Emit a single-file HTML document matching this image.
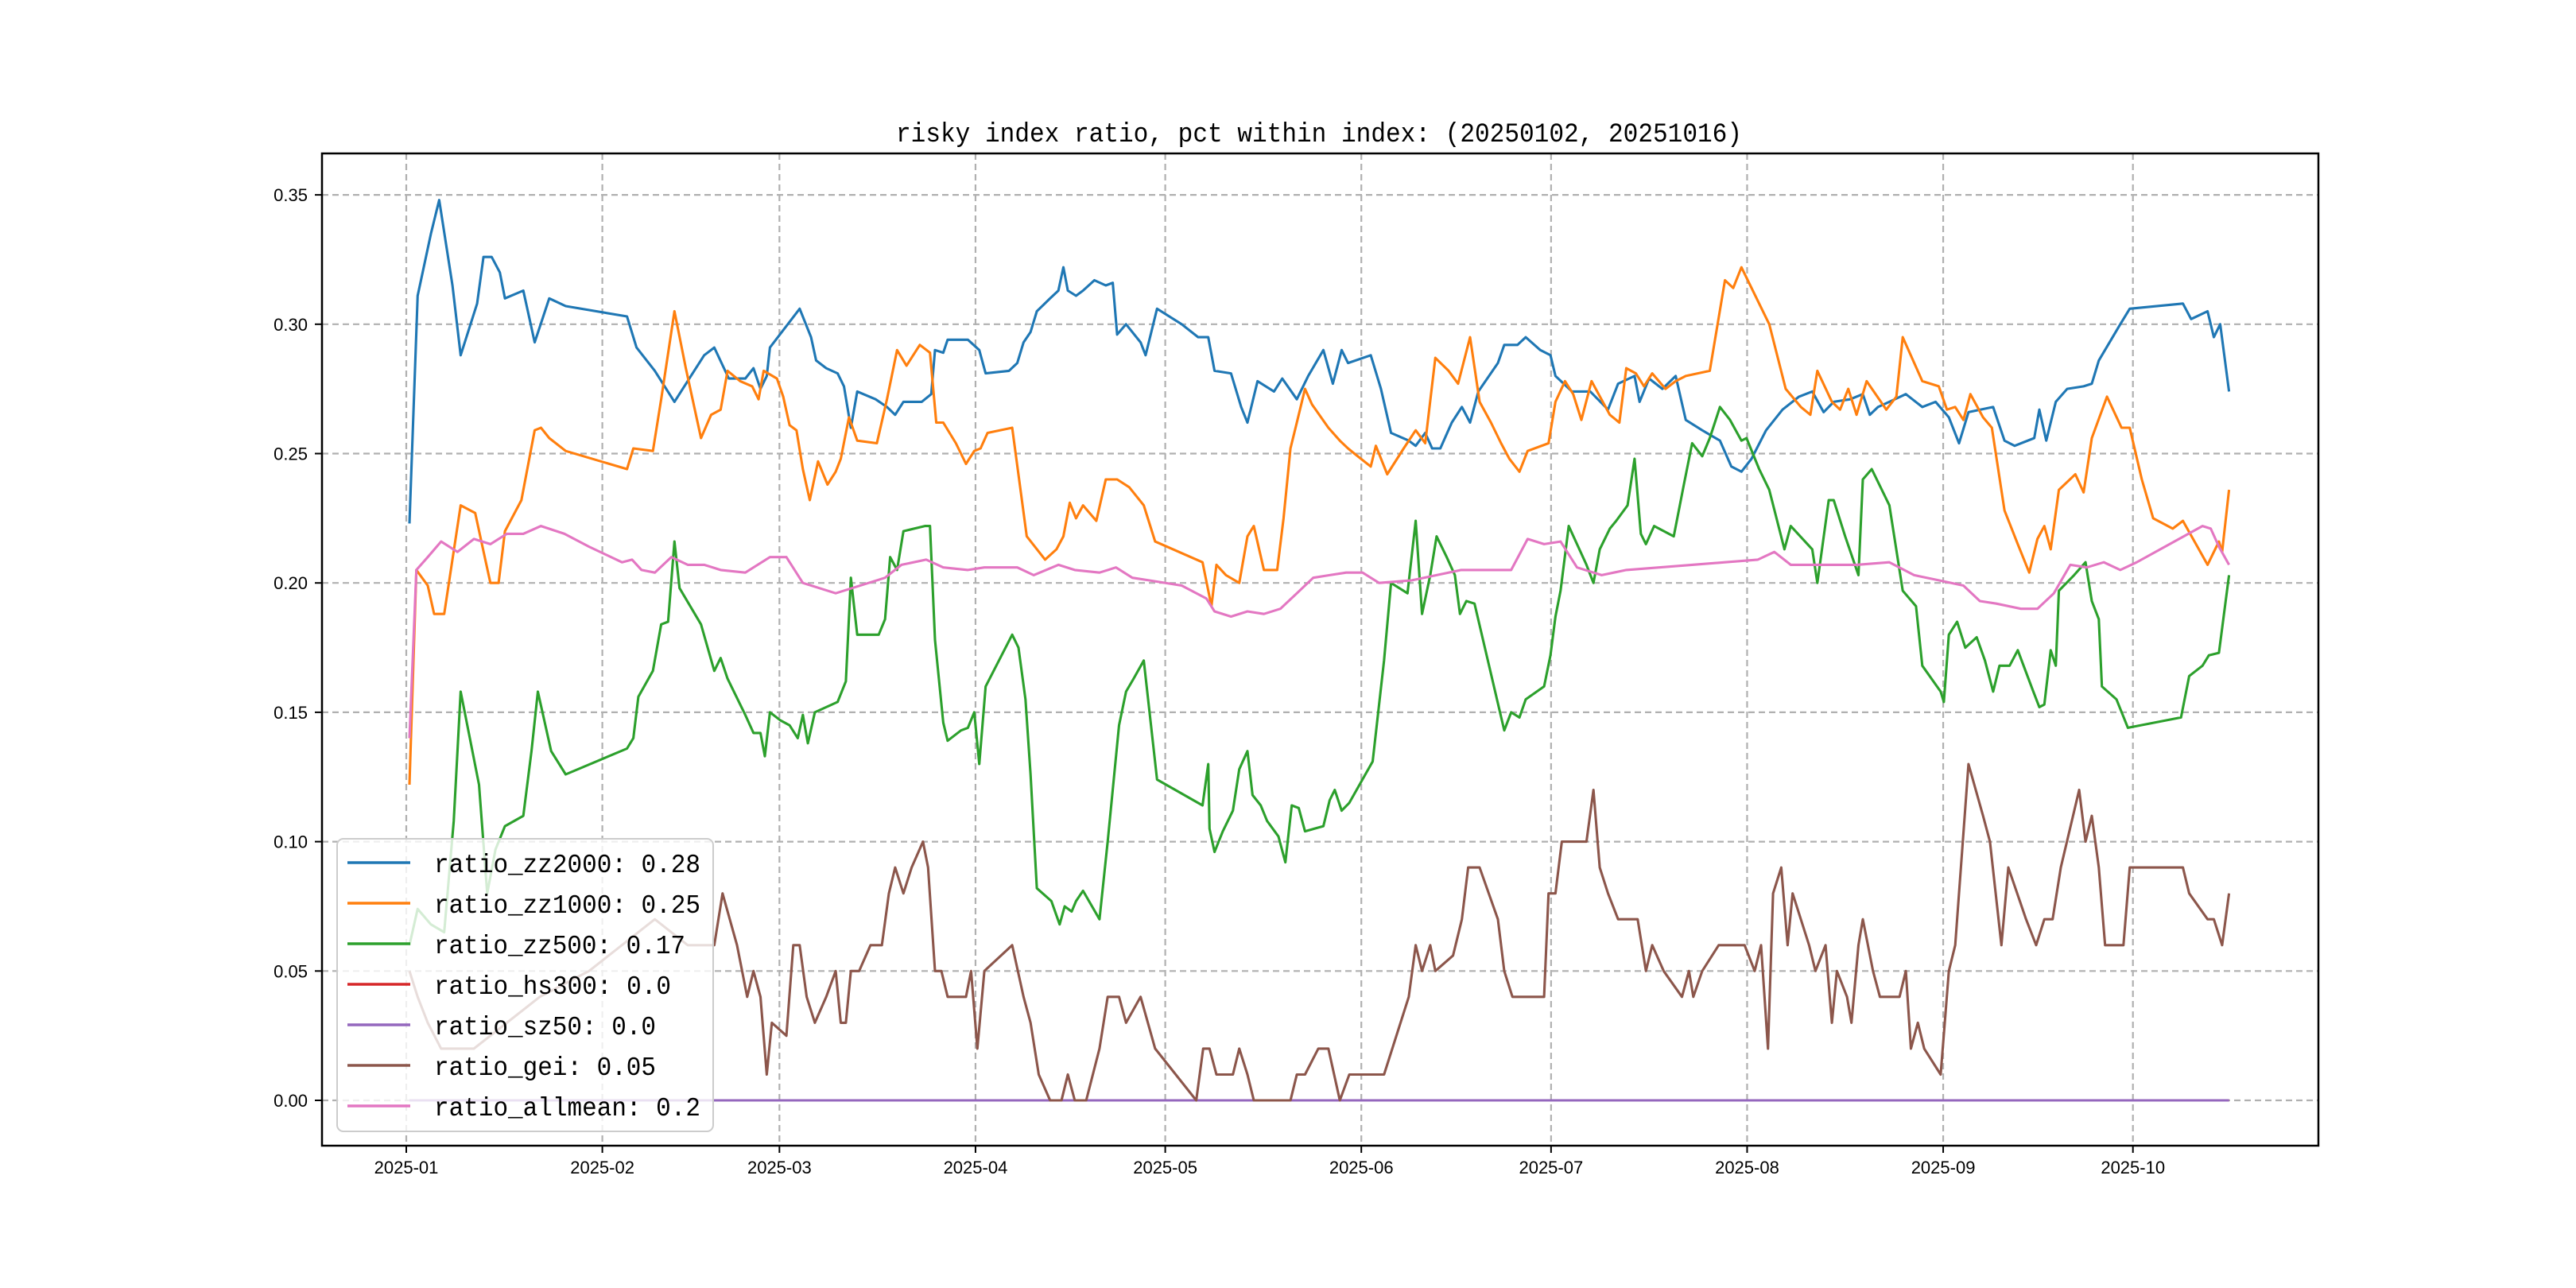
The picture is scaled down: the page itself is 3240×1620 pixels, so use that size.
<!DOCTYPE html>
<html><head><meta charset="utf-8"><style>
html,body{margin:0;padding:0;background:#fff;}
svg{display:block;}
</style></head>
<body>
<svg id="chart" width="3240" height="1620" xmlns="http://www.w3.org/2000/svg">
<rect x="0" y="0" width="3240" height="1620" fill="#fff"/>
<g id="grid"></g>
<g id="series"></g>
<rect x="405" y="193" width="2511" height="1248" fill="none" stroke="#000" stroke-width="2.5"/>
<g id="axes"></g>
<text x="1127" y="178" font-family="Liberation Mono, monospace" font-size="34" textLength="1064" lengthAdjust="spacingAndGlyphs">risky index ratio, pct within index: (20250102, 20251016)</text>
<g id="legend"></g>
</svg>
<script>
// x: days since 2025-01-01, y: ratio values
const monthTicks = [0,31,59,90,120,151,181,212,243,273];
const monthLabels = ["2025-01","2025-02","2025-03","2025-04","2025-05","2025-06","2025-07","2025-08","2025-09","2025-10"];
const yTicks = [0,0.05,0.10,0.15,0.20,0.25,0.30,0.35];
const yTickLabels = ["0.00","0.05","0.10","0.15","0.20","0.25","0.30","0.35"];
const seriesNames = ["ratio_zz2000: 0.28","ratio_zz1000: 0.25","ratio_zz500: 0.17","ratio_hs300: 0.0","ratio_sz50: 0.0","ratio_gei: 0.05","ratio_allmean: 0.2"];
const seriesColors = ["#1f77b4","#ff7f0e","#2ca02c","#d62728","#9467bd","#8c564b","#e377c2"];

const zz2000Days = [0.5,1.8,3.9,5.2,7.3,8.6,11.2,12.2,13.5,14.8,15.6,18.5,20.3,22.6,25.2,34.9,36.4,39.3,42.4,45,47.1,48.7,51,53.6,54.9,56,57,57.5,62.2,64,64.8,66.4,68.2,69.2,70.3,71.3,74.2,76,77.3,78.6,81.5,83,83.6,84.9,85.6,88.8,90.6,91.6,95.3,96.6,97.6,98.7,99.7,101.8,103.1,103.9,104.6,105.9,107,108.8,110.6,111.7,112.4,113.8,116.1,116.9,118.7,122.6,125.2,126.8,127.8,130.4,132,133,134.6,137.2,138.5,140.8,142.6,145,146.5,147.9,148.9,152.5,154.1,155.7,158.5,159.6,161.1,162.2,163.5,165.3,166.9,168.2,169.5,172.6,173.6,175.7,177,179.3,180.9,181.7,184.3,187.2,190,191.6,194.2,195,196.5,198.6,200.7,202.3,204.9,207.7,209.5,211.1,212.7,215,217.6,220.2,222.3,224.1,225.7,228.3,230.3,231.4,232.7,234.5,237.1,239.7,241.8,243.9,245.5,247,250.9,252.7,254.3,257.4,258.2,259.3,260.8,262.6,265.2,266.5,267.6,271,272.5,280.9,282.2,284.8,285.8,286.8,288.2];
const zz2000Vals = [0.223,0.311,0.335,0.348,0.315,0.288,0.308,0.326,0.326,0.32,0.31,0.313,0.293,0.31,0.307,0.303,0.291,0.282,0.27,0.28,0.288,0.291,0.279,0.279,0.283,0.275,0.28,0.291,0.306,0.295,0.286,0.283,0.281,0.276,0.26,0.274,0.271,0.268,0.265,0.27,0.27,0.273,0.29,0.289,0.294,0.294,0.29,0.281,0.282,0.285,0.293,0.297,0.305,0.31,0.313,0.322,0.313,0.311,0.313,0.317,0.315,0.316,0.296,0.3,0.293,0.288,0.306,0.3,0.295,0.295,0.282,0.281,0.268,0.262,0.278,0.274,0.279,0.271,0.28,0.29,0.277,0.29,0.285,0.288,0.275,0.258,0.255,0.253,0.258,0.252,0.252,0.262,0.268,0.262,0.274,0.285,0.292,0.292,0.295,0.29,0.288,0.28,0.274,0.274,0.267,0.277,0.28,0.27,0.279,0.275,0.28,0.263,0.259,0.255,0.245,0.243,0.248,0.259,0.267,0.272,0.274,0.266,0.27,0.271,0.273,0.265,0.268,0.27,0.273,0.268,0.27,0.264,0.254,0.266,0.268,0.255,0.253,0.256,0.267,0.255,0.27,0.275,0.276,0.277,0.286,0.3,0.306,0.308,0.302,0.305,0.295,0.3,0.274];

const zz1000Days = [0.5,1.6,3.4,4.4,6,8.6,10.9,12.5,13.3,14.6,15.6,18.2,20.3,21.3,22.6,25.2,34.9,35.9,39,40.3,42.4,44.2,46.6,48.2,49.7,50.8,52.8,54.7,55.7,56.5,58.6,59.6,60.6,61.7,62.7,63.8,65.1,66.6,67.9,68.7,70,71.3,74.4,76,77.6,79.1,81.2,82.8,83.8,84.9,86.9,88.5,89.8,90.8,91.9,95.8,98.1,101,102.8,103.9,104.9,105.9,107,109.1,110.6,112.4,114.3,116.6,118.4,125.9,127.3,128.1,129.6,131.7,133,134,135.6,137.7,138.7,139.8,140.8,142.1,143.2,145.8,147.6,148.9,149.9,152.5,153.3,155.1,157.7,159.6,161.1,162.7,164.8,166.3,168.2,169.7,171.5,173.1,174.4,176,177.3,180.6,181.7,183.2,184.5,185.8,187.4,190.3,191.8,192.9,194.4,195.7,197,199.1,200.7,202.3,206.1,208.5,209.8,211.1,215.5,218.1,220.5,222,223.1,225.4,226.7,228,229.3,230.9,234,235.6,236.6,239.7,242.3,243.6,244.9,246.2,247.3,249.3,250.7,252.7,254.8,256.6,257.9,259,260,261.3,263.9,265.2,266.5,268.9,271.2,272.5,274.4,276.2,279.3,280.9,284.8,286.6,287.1,288.2];
const zz1000Vals = [0.122,0.205,0.199,0.188,0.188,0.23,0.227,0.209,0.2,0.2,0.22,0.232,0.259,0.26,0.256,0.251,0.244,0.252,0.251,0.271,0.305,0.283,0.256,0.265,0.267,0.282,0.278,0.276,0.271,0.282,0.279,0.272,0.261,0.259,0.244,0.232,0.247,0.238,0.243,0.248,0.264,0.255,0.254,0.271,0.29,0.284,0.292,0.289,0.262,0.262,0.254,0.246,0.251,0.252,0.258,0.26,0.218,0.209,0.213,0.218,0.231,0.225,0.23,0.224,0.24,0.24,0.237,0.23,0.216,0.208,0.191,0.207,0.203,0.2,0.218,0.222,0.205,0.205,0.225,0.252,0.262,0.275,0.269,0.26,0.255,0.252,0.25,0.245,0.253,0.242,0.252,0.259,0.254,0.287,0.282,0.277,0.295,0.27,0.262,0.254,0.248,0.243,0.251,0.254,0.27,0.278,0.273,0.263,0.278,0.265,0.262,0.283,0.281,0.276,0.281,0.275,0.278,0.28,0.282,0.317,0.314,0.322,0.3,0.275,0.268,0.265,0.282,0.27,0.267,0.275,0.265,0.278,0.267,0.272,0.295,0.278,0.276,0.267,0.268,0.263,0.273,0.264,0.26,0.228,0.215,0.204,0.217,0.222,0.213,0.236,0.242,0.235,0.256,0.272,0.26,0.26,0.24,0.225,0.221,0.224,0.207,0.216,0.212,0.236];

const zz500Days = [0.5,1.8,3.9,6,7.5,8.6,11.5,12.8,14.1,15.6,18.5,19.8,20.8,22.9,25.2,34.9,35.9,36.7,39,40.3,41.4,42.4,43.2,46.6,48.7,49.7,50.8,53.6,54.9,56,56.7,57.5,59.1,60.6,61.9,62.7,63.5,64.6,66.4,68.2,69.5,70.3,71.3,74.7,75.7,76.5,77.6,78.6,82,82.8,83.6,84.9,85.6,87.7,88.8,89.8,90.6,91.6,95.8,96.8,97.9,98.7,99.7,102,103.3,104.1,105.2,105.9,107,109.6,110.9,112.7,113.8,115,116.6,118.7,125.9,126.8,127,127.8,129.1,130.7,131.7,133,133.8,135.1,136.1,137.9,139,140,141.1,142.1,145,146,146.8,147.9,149.1,152.8,153.9,154.6,155.7,158.3,159.6,160.6,161.9,162.9,164.5,165.8,166.6,167.6,168.9,173.6,174.7,176,177,179.9,180.9,181.7,182.5,183.8,185.1,186.6,187.7,188.7,190.3,191.3,193.1,194.2,195.2,196,197.3,200.4,202,203.3,204.9,206.1,207.7,209.3,211.1,211.9,213.9,215.5,217.9,218.9,222.3,223.1,224.9,225.7,227.5,229.6,230.3,231.7,234.5,236.6,238.7,239.7,242.6,243.1,243.9,245.2,246.5,248.3,249.6,250.9,251.9,253.5,254.8,257.1,258.2,259,260,260.8,261.3,263.7,265.5,266.5,267.6,268.1,270.4,272.2,280.6,281.9,284,285,286.6,288.2];
const zz500Vals = [0.06,0.074,0.068,0.065,0.108,0.158,0.122,0.08,0.097,0.106,0.11,0.135,0.158,0.135,0.126,0.136,0.14,0.156,0.166,0.184,0.185,0.216,0.198,0.184,0.166,0.171,0.163,0.149,0.142,0.142,0.133,0.15,0.147,0.145,0.14,0.149,0.138,0.15,0.152,0.154,0.162,0.202,0.18,0.18,0.186,0.21,0.205,0.22,0.222,0.222,0.178,0.146,0.139,0.143,0.144,0.15,0.13,0.16,0.18,0.175,0.155,0.126,0.082,0.077,0.068,0.075,0.073,0.077,0.081,0.07,0.1,0.145,0.158,0.163,0.17,0.124,0.114,0.13,0.105,0.096,0.104,0.112,0.128,0.135,0.118,0.114,0.108,0.102,0.092,0.114,0.113,0.104,0.106,0.116,0.12,0.112,0.115,0.131,0.155,0.17,0.2,0.196,0.224,0.188,0.203,0.218,0.21,0.203,0.188,0.193,0.192,0.143,0.15,0.148,0.155,0.16,0.172,0.187,0.197,0.222,0.215,0.207,0.2,0.213,0.221,0.224,0.23,0.248,0.219,0.215,0.222,0.218,0.238,0.254,0.249,0.256,0.268,0.263,0.255,0.256,0.244,0.236,0.213,0.222,0.213,0.2,0.232,0.232,0.218,0.203,0.24,0.244,0.23,0.197,0.191,0.168,0.158,0.154,0.18,0.185,0.175,0.179,0.17,0.158,0.168,0.168,0.174,0.159,0.152,0.153,0.174,0.168,0.197,0.203,0.208,0.193,0.186,0.16,0.155,0.144,0.148,0.164,0.168,0.172,0.173,0.203];

const hs300Days = [0.5,288.2];
const hs300Vals = [0,0];
const sz50Days = [0.5,288.2];
const sz50Vals = [0,0];

const geiDays = [0.5,1.8,3.4,5.5,10.7,15.9,21.1,28.9,39.3,44.5,47.1,48.7,50,52.3,53.9,54.9,56,57,57.8,60.1,61.2,62.2,63.3,64.6,66.4,67.9,68.7,69.5,70.3,71.6,73.4,75.2,76.3,77.3,78.6,79.9,81.7,82.5,83.6,84.6,85.6,88.5,89.3,90.3,91.4,95.8,97.6,98.7,100,101.8,103.6,104.6,105.7,107.5,109.6,110.9,112.7,113.8,116.1,118.4,124.9,126,127,128.1,130.7,131.7,133,134,139.8,140.8,142.1,144.2,145.8,147.6,149.1,154.6,158.5,159.6,160.6,161.9,162.7,165.5,166.9,167.9,169.7,172.6,173.6,174.9,179.9,180.6,181.7,182.7,186.6,187.7,188.7,190,191.6,194.7,196,197,198.8,201.7,202.8,203.5,204.9,207.5,211.6,213.2,214.2,215.3,216.1,217.4,218.4,219.2,221.8,222.8,224.4,225.4,226.2,227.8,228.5,229.6,230.3,231.9,233,236.1,237.1,237.9,239,240,242.6,243.9,244.9,247,249.3,250.4,252.2,253.3,256.1,257.7,259,260.3,261.6,264.5,265.5,266.5,267.6,268.6,271.5,272.5,280.9,281.9,284.8,285.8,287.1,288.2];
const geiVals = [0.05,0.04,0.03,0.02,0.02,0.03,0.04,0.05,0.07,0.06,0.06,0.06,0.08,0.06,0.04,0.05,0.04,0.01,0.03,0.025,0.06,0.06,0.04,0.03,0.04,0.05,0.03,0.03,0.05,0.05,0.06,0.06,0.08,0.09,0.08,0.09,0.1,0.09,0.05,0.05,0.04,0.04,0.05,0.02,0.05,0.06,0.04,0.03,0.01,0,0,0.01,0,0,0.02,0.04,0.04,0.03,0.04,0.02,0,0.02,0.02,0.01,0.01,0.02,0.01,0,0,0.01,0.01,0.02,0.02,0,0.01,0.01,0.04,0.06,0.05,0.06,0.05,0.056,0.07,0.09,0.09,0.07,0.05,0.04,0.04,0.08,0.08,0.1,0.1,0.12,0.09,0.08,0.07,0.07,0.05,0.06,0.05,0.04,0.05,0.04,0.05,0.06,0.06,0.05,0.06,0.02,0.08,0.09,0.06,0.08,0.06,0.05,0.06,0.03,0.05,0.04,0.03,0.06,0.07,0.05,0.04,0.04,0.05,0.02,0.03,0.02,0.01,0.05,0.06,0.13,0.11,0.1,0.06,0.09,0.07,0.06,0.07,0.07,0.09,0.12,0.1,0.11,0.09,0.06,0.06,0.09,0.09,0.08,0.07,0.07,0.06,0.08];

const allmeanDays = [0.5,1.6,3.4,5.5,8.1,10.7,13.3,15.9,18.5,21.3,25,28.9,34.1,35.7,37.2,39.3,41.9,44.5,47.1,49.7,53.6,57.5,60.1,62.7,67.9,70.5,75.7,78.3,82.2,84.9,88.8,91.4,96.6,99.2,103.1,105.7,109.6,112.2,114.8,117.4,122.6,126.5,127.8,130.4,133,135.6,138.2,140.8,143.4,146,148.6,151.2,153.8,159,162.9,166.8,170.7,174.7,177.3,179.9,182.5,185.1,189,192.9,198.1,203.3,208.5,213.7,216.3,218.9,224.1,229.3,234.5,238.4,242.3,246.2,248.8,251.4,255.3,257.9,260.5,263.1,265.7,268.4,271,273.6,278.8,284,285.3,286.6,288.2];
const allmeanVals = [0.14,0.205,0.21,0.216,0.212,0.217,0.215,0.219,0.219,0.222,0.219,0.214,0.208,0.209,0.205,0.204,0.21,0.207,0.207,0.205,0.204,0.21,0.21,0.2,0.196,0.198,0.202,0.207,0.209,0.206,0.205,0.206,0.206,0.203,0.207,0.205,0.204,0.206,0.202,0.201,0.199,0.194,0.189,0.187,0.189,0.188,0.19,0.196,0.202,0.203,0.204,0.204,0.2,0.201,0.203,0.205,0.205,0.205,0.217,0.215,0.216,0.206,0.203,0.205,0.206,0.207,0.208,0.209,0.212,0.207,0.207,0.207,0.208,0.203,0.201,0.199,0.193,0.192,0.19,0.19,0.196,0.207,0.206,0.208,0.205,0.208,0.215,0.222,0.221,0.214,0.207];

const seriesDays = [zz2000Days,zz1000Days,zz500Days,hs300Days,sz50Days,geiDays,allmeanDays];
const seriesVals = [zz2000Vals,zz1000Vals,zz500Vals,hs300Vals,sz50Vals,geiVals,allmeanVals];
const seriesKeys = ["zz2000","zz1000","zz500","hs300","sz50","gei","allmean"];

const NS = "http://www.w3.org/2000/svg";
const PL = 405, PR = 2916, PT = 193, PB = 1441;
function xScale(d){ return 511 + d*7.955; }
function yScale(v){ return 1384 - v*3254; }
function mk(tag, attrs){ const e = document.createElementNS(NS, tag); for (const k in attrs) e.setAttribute(k, attrs[k]); return e; }

const grid = document.getElementById('grid');
const axes = document.getElementById('axes');
monthTicks.forEach((d,i)=>{
  const x = xScale(d);
  const gl = mk('line',{x1:x,x2:x,y1:PT,y2:PB,stroke:'#b0b0b0','stroke-width':2.2,'stroke-dasharray':'8,5'});
  
  
  grid.appendChild(gl);
  const tk = mk('line',{x1:x,x2:x,y1:PB,y2:PB+9,stroke:'#000','stroke-width':2});
  
  
  axes.appendChild(tk);
  const t = mk('text',{x:x,y:PB+35,'text-anchor':'middle','font-family':'Liberation Sans, sans-serif','font-size':22,fill:'#000'});
  t.textContent = monthLabels[i];
  
  
  axes.appendChild(t);
});
yTicks.forEach((v,i)=>{
  const y = yScale(v);
  const gl = mk('line',{x1:PL,x2:PR,y1:y,y2:y,stroke:'#b0b0b0','stroke-width':2.2,'stroke-dasharray':'8,5'});
  
  
  grid.appendChild(gl);
  const tk = mk('line',{x1:PL-9,x2:PL,y1:y,y2:y,stroke:'#000','stroke-width':2});
  
  
  axes.appendChild(tk);
  const t = mk('text',{x:PL-18,y:y+8,'text-anchor':'end','font-family':'Liberation Sans, sans-serif','font-size':22,fill:'#000'});
  t.textContent = yTickLabels[i];
  
  
  axes.appendChild(t);
});

const sg = document.getElementById('series');
seriesDays.forEach((days,si)=>{
  const vals = seriesVals[si];
  const pts = days.map((d,j)=> xScale(d).toFixed(1)+','+yScale(vals[j]).toFixed(1)).join(' ');
  const pl = mk('polyline',{points:pts,fill:'none',stroke:seriesColors[si],'stroke-width':3.1,'stroke-linejoin':'round'});
  
  
  sg.appendChild(pl);
});

const lg = document.getElementById('legend');
const box = mk('rect',{x:424,y:1055,width:473,height:368,rx:8,fill:'#fff','fill-opacity':0.8,stroke:'#cccccc','stroke-width':2});


lg.appendChild(box);
seriesNames.forEach((name,i)=>{
  const y = 1085 + i*51;
  const ln = mk('line',{x1:437,x2:516,y1:y,y2:y,stroke:seriesColors[i],'stroke-width':3.4});
  
  
  lg.appendChild(ln);
  const t = mk('text',{x:546,y:y+12,'font-family':'Liberation Mono, monospace','font-size':33,fill:'#000',textLength:(name.length*18.6).toFixed(0),lengthAdjust:'spacingAndGlyphs'});
  t.textContent = name;
  
  
  lg.appendChild(t);
});
</script>
</body></html>
